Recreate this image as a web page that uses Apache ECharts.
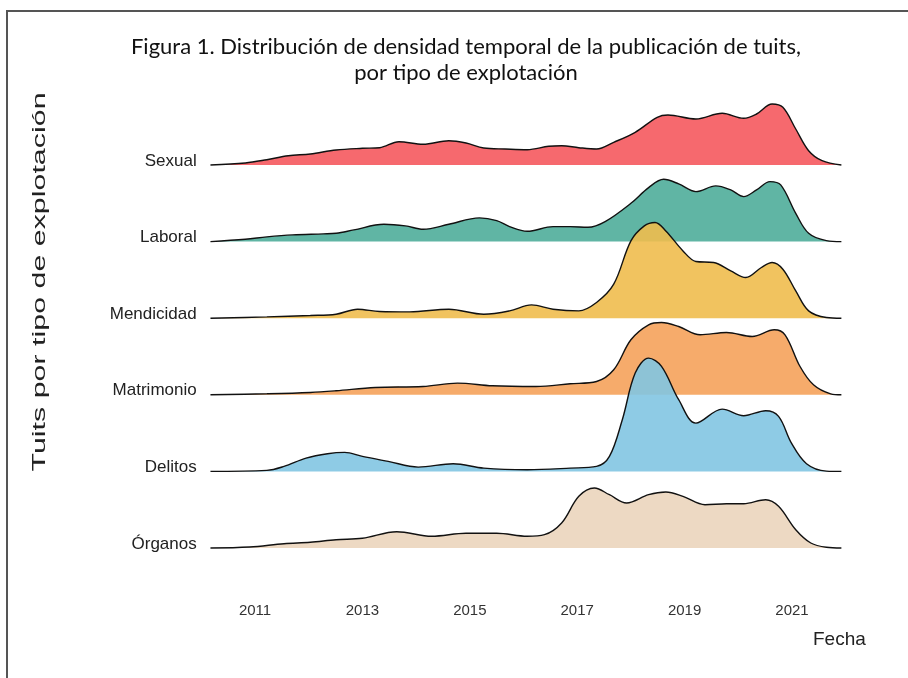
<!DOCTYPE html>
<html>
<head>
<meta charset="utf-8">
<script src="https://cdn.jsdelivr.net/npm/echarts@6/dist/echarts.min.js"></script>
<style>
  html, body { margin: 0; padding: 0; background: #fff; }
  #graph { width: 908px; height: 678px; }
</style>
</head>
<body>
<div id="graph"></div>
<script>
// tipos de explotación, de arriba abajo
let categories = ["Sexual", "Laboral", "Mendicidad", "Matrimonio", "Delitos", "Órganos"];
let yearTicks = [2011, 2013, 2015, 2017, 2019, 2021];

// densidad: [año, altura]
let sexual = [[2010.17,0],[2010.82,2],[2011.22,5.3],[2011.62,9.3],[2012.03,11],[2012.51,15],[2013.0,16.7],
  [2013.32,17.3],[2013.68,23.3],[2014.13,20.7],[2014.61,24.3],[2014.93,22],[2015.26,17],[2015.66,16],
  [2016.07,15.3],[2016.47,18.7],[2016.71,19.3],[2017.03,17.3],[2017.36,16],[2017.68,22.7],[2018.08,32.7],
  [2018.49,47.7],[2018.69,50],[2019.21,46],[2019.7,51.7],[2020.1,46.7],[2020.34,51],[2020.63,61],
  [2020.83,57.7],[2021.07,36],[2021.31,14.3],[2021.56,4.3],[2021.92,0]];
let laboral = [[2010.17,0],[2010.82,2.3],[2011.22,4.7],[2011.7,6.7],[2012.27,7.7],[2012.51,8.3],[2012.84,11.7],
  [2013.4,17.3],[2013.8,15.7],[2014.13,12.3],[2014.61,17.3],[2015.18,23.7],[2015.5,21],[2015.74,15],
  [2016.07,10.3],[2016.55,15],[2016.87,15],[2017.2,14.3],[2017.52,20],[2018.0,38.3],[2018.33,54],
  [2018.61,62.3],[2018.89,57.7],[2019.21,50],[2019.58,55.7],[2019.86,51.7],[2020.1,45],[2020.34,51.7],
  [2020.59,60],[2020.79,56.7],[2021.07,28.3],[2021.31,8.3],[2021.64,1],[2021.92,0]];
let mendicidad = [[2010.17,0],[2011.22,1.3],[2012.03,2.7],[2012.51,4],[2012.91,9],[2013.32,6.7],[2013.88,6.3],
  [2014.61,9],[2015.26,4],[2015.74,7.3],[2016.15,13.3],[2016.55,9],[2017.03,7.3],[2017.36,15.7],
  [2017.68,34],[2018.0,77.3],[2018.25,92.3],[2018.45,95.7],[2018.65,87.3],[2018.97,67.3],[2019.21,56.7],
  [2019.54,55.7],[2019.86,47.3],[2020.14,40.7],[2020.43,50.7],[2020.63,55.7],[2020.83,49],[2021.07,27.3],
  [2021.31,7.3],[2021.64,0.7],[2021.92,0]];
let matrimonio = [[2010.17,0],[2011.22,1],[2012.03,2.3],[2012.51,4],[2013.24,7.3],[2014.13,8.3],[2014.77,11.7],
  [2015.42,9],[2016.23,8.3],[2016.87,11],[2017.36,13.3],[2017.68,25],[2018.0,55],[2018.33,70],
  [2018.57,72.3],[2018.89,68.3],[2019.29,60],[2019.78,62.3],[2020.26,58.3],[2020.67,65],[2020.87,60],
  [2021.15,28.3],[2021.4,10],[2021.72,1],[2021.92,0]];
let delitos = [[2010.17,0],[2011.22,1],[2011.54,5],[2011.95,13.3],[2012.35,17.7],[2012.67,19],[2013.0,15],
  [2013.48,10],[2014.04,4.3],[2014.69,7.7],[2015.26,3.3],[2016.07,1.7],[2016.87,3.3],[2017.36,5],
  [2017.6,15],[2017.84,51.7],[2018.08,98.3],[2018.33,113.3],[2018.57,105],[2018.89,71.7],[2019.21,48.3],
  [2019.7,62.3],[2020.1,55.7],[2020.51,60.7],[2020.75,55],[2020.99,28.3],[2021.27,7.7],[2021.64,0.3],[2021.92,0]];
let organos = [[2010.17,0],[2010.9,1],[2011.54,4.3],[2012.03,5.7],[2012.51,8.3],[2013.0,9.7],[2013.64,16.3],
  [2014.29,11.7],[2014.93,14.7],[2015.5,14.7],[2016.07,11.7],[2016.39,13.3],[2016.71,25],[2017.03,51.7],
  [2017.32,60],[2017.6,53.3],[2017.92,45],[2018.33,53.3],[2018.65,56],[2018.97,51.7],[2019.38,43.3],
  [2019.78,44.3],[2020.1,44.3],[2020.51,48.3],[2020.75,41.7],[2021.07,18.3],[2021.35,5],[2021.64,0.7],[2021.92,0]];

let densities = [sexual, laboral, mendicidad, matrimonio, delitos, organos];
let colors = ["#F5595E", "#4FAD9A", "#F0BD4E", "#F5A25B", "#82C5E2", "#EBD5BC"];

// una rejilla por cresta, solapadas
let FIRST_BASE = 165;   // px de la línea base de "Sexual"
let SPACING = 76.6;     // px entre líneas base
let RIDGE_H = 130;      // alto de cada rejilla (= unidades de densidad)
let n = categories.length;

let myChart = echarts.init(document.getElementById('graph'));

let grids = [], xAxes = [], yAxes = [], series = [];
for (let i = 0; i < n; i++) {
    let base = FIRST_BASE + i * SPACING;
    let last = i === n - 1;
    grids.push({ left: 206.7, right: 65, top: base - RIDGE_H, height: RIDGE_H });
    xAxes.push({
        gridIndex: i,
        type: 'value',
        min: 2010.1,
        max: 2021.95,
        axisLine: { show: false },
        axisTick: { show: false },
        splitLine: { show: false },
        axisLabel: {
            show: last,
            customValues: yearTicks,
            formatter: v => String(v),
            margin: 55,
            fontFamily: 'Liberation Sans',
            fontSize: 15,
            color: '#333'
        }
    });
    yAxes.push({
        gridIndex: i,
        type: 'value',
        min: 0,
        max: RIDGE_H,
        axisLine: { show: false },
        axisTick: { show: false },
        splitLine: { show: false },
        axisLabel: {
            customValues: [4],
            formatter: () => categories[i],
            margin: 10,
            fontFamily: 'Liberation Sans',
            fontSize: 17,
            color: '#222'
        }
    });
    series.push({
        name: categories[i],
        type: 'line',
        xAxisIndex: i,
        yAxisIndex: i,
        data: densities[i],
        smooth: 0.35,
        symbol: 'none',
        clip: false,
        lineStyle: { color: '#111', width: 1.4 },
        areaStyle: { color: colors[i], opacity: 0.9 },
        z: 2 + i
    });
}

let option = {
    animation: false,
    backgroundColor: '#fff',
    title: {
        text: 'Figura 1. Distribución de densidad temporal de la publicación de tuits,\npor tipo de explotación',
        left: 461,
        top: 29,
        textAlign: 'center',
        textStyle: {
            fontFamily: 'Lato',
            fontWeight: 'normal',
            fontSize: 22,
            lineHeight: 26,
            color: '#111'
        }
    },
    grid: grids,
    xAxis: xAxes,
    yAxis: yAxes,
    graphic: [
        {
            type: 'text',
            x: 40, y: 282,
            rotation: Math.PI / 2,
            scaleX: 1.6,
            style: {
                text: 'Tuits por tipo de explotación',
                font: '19px "Liberation Sans"',
                fill: '#222',
                align: 'center',
                verticalAlign: 'middle'
            }
        },
        {
            type: 'text',
            x: 813, y: 640,
            style: {
                text: 'Fecha',
                font: '19px "Liberation Sans"',
                fill: '#222',
                align: 'left',
                verticalAlign: 'middle'
            }
        },
        {
            type: 'polyline',
            shape: { points: [[7, 678], [7, 11], [908, 11]] },
            style: { stroke: '#555', lineWidth: 2, fill: null }
        }
    ],
    series: series
};
myChart.setOption(option);
</script>
</body>
</html>
